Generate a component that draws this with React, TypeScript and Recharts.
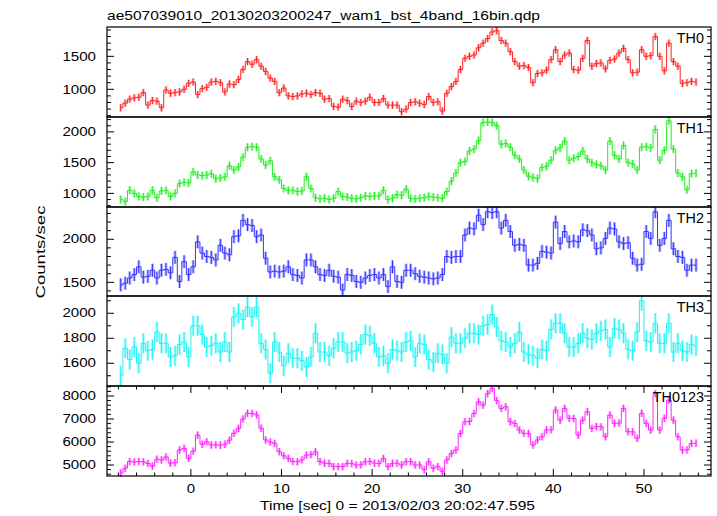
import { LineChart, Line, XAxis, YAxis, ErrorBar } from "recharts";

// time bins [sec], 0.5 s rebinned
const TIME = [
  -7.75, -7.25, -6.75, -6.25, -5.75, -5.25, -4.75, -4.25, -3.75, -3.25,
  -2.75, -2.25, -1.75, -1.25, -0.75, -0.25, 0.25, 0.75, 1.25, 1.75,
  2.25, 2.75, 3.25, 3.75, 4.25, 4.75, 5.25, 5.75, 6.25, 6.75,
  7.25, 7.75, 8.25, 8.75, 9.25, 9.75, 10.25, 10.75, 11.25, 11.75,
  12.25, 12.75, 13.25, 13.75, 14.25, 14.75, 15.25, 15.75, 16.25, 16.75,
  17.25, 17.75, 18.25, 18.75, 19.25, 19.75, 20.25, 20.75, 21.25, 21.75,
  22.25, 22.75, 23.25, 23.75, 24.25, 24.75, 25.25, 25.75, 26.25, 26.75,
  27.25, 27.75, 28.25, 28.75, 29.25, 29.75, 30.25, 30.75, 31.25, 31.75,
  32.25, 32.75, 33.25, 33.75, 34.25, 34.75, 35.25, 35.75, 36.25, 36.75,
  37.25, 37.75, 38.25, 38.75, 39.25, 39.75, 40.25, 40.75, 41.25, 41.75,
  42.25, 42.75, 43.25, 43.75, 44.25, 44.75, 45.25, 45.75, 46.25, 46.75,
  47.25, 47.75, 48.25, 48.75, 49.25, 49.75, 50.25, 50.75, 51.25, 51.75,
  52.25, 52.75, 53.25, 53.75, 54.25, 54.75, 55.25, 55.75,
];

const TH0 = [
  720, 790, 850, 870, 880, 950, 760, 830, 820, 720,
  990, 940, 950, 960, 1000, 1090, 1110, 920, 1010, 1030,
  1110, 1120, 1100, 960, 1080, 1070, 1150, 1300, 1420, 1380,
  1450, 1350, 1270, 1170, 1120, 950, 1020, 900, 890, 900,
  930, 940, 920, 950, 940, 850, 860, 740, 730, 850,
  830, 740, 820, 800, 820, 880, 800, 800, 860, 760,
  760, 760, 660, 700, 800, 810, 790, 770, 890, 800,
  810, 670, 940, 1040, 1120, 1300, 1470, 1500, 1520, 1630,
  1700, 1770, 1870, 1890, 1740, 1700, 1570, 1420, 1350, 1360,
  1330, 1100, 1240, 1250, 1290, 1450, 1600, 1420, 1520, 1550,
  1300, 1290, 1470, 1740, 1350, 1390, 1400, 1310, 1440, 1460,
  1550, 1620, 1450, 1250, 1260, 1600, 1500, 1510, 1800, 1500,
  1280, 1700, 1420, 1350, 1090, 1100, 1120, 1110,
];

const TH1 = [
  900, 870, 1050, 1000, 950, 940, 950, 1050, 930, 1040,
  1050, 950, 1000, 1160, 1180, 1170, 1350, 1300, 1290, 1300,
  1320, 1240, 1250, 1270, 1450, 1380, 1430, 1590, 1750, 1760,
  1750, 1560, 1460, 1530, 1270, 1220, 1080, 1050, 1050, 1030,
  1040, 1270, 1080, 930, 910, 920, 900, 920, 1030, 950,
  940, 920, 910, 930, 960, 950, 960, 960, 1050, 900,
  920, 980, 970, 1070, 920, 910, 920, 930, 950, 940,
  930, 920, 1030, 1200, 1330, 1500, 1520, 1690, 1720, 1860,
  2150, 2160, 2150, 2100, 1800, 1810, 1750, 1620, 1560, 1380,
  1280, 1260, 1240, 1420, 1440, 1540, 1700, 1740, 1850, 1540,
  1570, 1600, 1690, 1560, 1500, 1470, 1450, 1380, 1850, 1620,
  1560, 1780, 1500, 1480, 1380, 1750, 1760, 1740, 2040, 1540,
  1700, 2180, 1720, 1330, 1270, 1060, 1320, 1330,
];

const TH2 = [
  1470, 1490, 1550, 1590, 1680, 1560, 1570, 1640, 1550, 1640,
  1650, 1610, 1790, 1510, 1740, 1590, 1680, 1970, 1840, 1800,
  1790, 1760, 1930, 1840, 1820, 2030, 2040, 2220, 2170, 2160,
  2030, 2050, 1780, 1620, 1630, 1620, 1630, 1680, 1590, 1580,
  1550, 1760, 1760, 1680, 1590, 1580, 1640, 1570, 1560, 1410,
  1590, 1580, 1510, 1500, 1550, 1580, 1590, 1550, 1590, 1450,
  1680, 1510, 1500, 1640, 1640, 1600, 1570, 1560, 1550, 1540,
  1550, 1590, 1800, 1790, 1800, 1800, 2050, 2130, 2120, 2280,
  2170, 2320, 2310, 2320, 2130, 2220, 2090, 1930, 1940, 1930,
  1700, 1700, 1720, 1860, 1850, 1840, 2200, 1950, 2090, 1970,
  1980, 1970, 2110, 2100, 2050, 1890, 1900, 2010, 2130, 2120,
  1970, 1950, 1960, 1780, 1700, 1710, 2090, 2010, 2320, 1930,
  2010, 2220, 1890, 1800, 1790, 1640, 1700, 1700,
];

const TH3 = [
  1500, 1720, 1630, 1730, 1600, 1760, 1700, 1710, 1850, 1760,
  1760, 1650, 1660, 1750, 1770, 1650, 1900, 1900, 1830, 1730,
  1740, 1760, 1690, 1770, 1690, 1970, 2000, 1950, 2050, 1970,
  2050, 1760, 1710, 1520, 1770, 1690, 1580, 1680, 1640, 1640,
  1620, 1570, 1650, 1840, 1690, 1690, 1660, 1720, 1770, 1770,
  1680, 1690, 1700, 1750, 1830, 1820, 1760, 1650, 1660, 1600,
  1710, 1700, 1690, 1770, 1780, 1650, 1760, 1750, 1630, 1610,
  1680, 1670, 1600, 1810, 1760, 1760, 1800, 1840, 1840, 1830,
  1900, 1910, 1990, 1890, 1780, 1770, 1730, 1760, 1850, 1690,
  1670, 1660, 1640, 1710, 1700, 1870, 1920, 1920, 1840, 1730,
  1730, 1760, 1840, 1800, 1790, 1840, 1860, 1870, 1730, 1880,
  1870, 1840, 1710, 1700, 1850, 2100, 1780, 1770, 1920, 1760,
  1760, 1920, 1690, 1760, 1700, 1690, 1750, 1740,
];

const TH0123 = [
  4650, 4860, 5150, 5130, 5150, 5140, 5070, 4950, 5250, 5220,
  5350, 5080, 5100, 5650, 5720, 5290, 5600, 6300, 5900, 6010,
  5870, 5880, 5860, 5900, 6080, 6380, 6590, 7000, 7250, 7240,
  7180, 6600, 6090, 6000, 5940, 5580, 5400, 5290, 5150, 5140,
  5220, 5430, 5450, 5570, 5150, 5080, 5070, 4930, 4930, 4930,
  5070, 5060, 5000, 5010, 5140, 5150, 5080, 5070, 5280, 4930,
  5070, 5080, 5000, 5140, 5150, 5000, 5000, 4790, 5140, 4860,
  4930, 4720, 5220, 5500, 5650, 6370, 6880, 6890, 7240, 7750,
  7600, 8100, 8330, 7800, 7460, 7530, 6880, 6810, 6520, 6380,
  6370, 5870, 6090, 6230, 6520, 6530, 7390, 6950, 7460, 7030,
  7020, 6300, 6950, 7320, 6590, 6670, 6660, 6230, 7170, 6810,
  6820, 7460, 6450, 6440, 6160, 7250, 6810, 6520, 8100, 6520,
  7030, 7820, 6950, 6230, 5650, 5660, 5940, 5950,
];

// typical 1-sigma errors per band (counts/sec)
const ERR_TH0 = 55;
const ERR_TH1 = 65;
const ERR_TH2 = 75;
const ERR_TH3 = 80;
const ERR_TH0123 = 160;

const X_TICKS = [
  -8, -6, -4, -2, 0, 2, 4, 6, 8, 10, 12, 14, 16, 18, 20, 22, 24, 26, 28,
  30, 32, 34, 36, 38, 40, 42, 44, 46, 48, 50, 52, 54, 56,
];
const X_LABELS = [0, 10, 20, 30, 40, 50];

const TH0_TICKS = [600, 700, 800, 900, 1000, 1100, 1200, 1300, 1400, 1500, 1600, 1700, 1800, 1900];
const TH0_LABELS = [1000, 1500];
const TH1_TICKS = [800, 900, 1000, 1100, 1200, 1300, 1400, 1500, 1600, 1700, 1800, 1900, 2000, 2100, 2200];
const TH1_LABELS = [1000, 1500, 2000];
const TH2_TICKS = [1400, 1500, 1600, 1700, 1800, 1900, 2000, 2100, 2200, 2300];
const TH2_LABELS = [1500, 2000];
const TH3_TICKS = [1500, 1600, 1700, 1800, 1900, 2000, 2100];
const TH3_LABELS = [1600, 1800, 2000];
const TH0123_TICKS = [
  4600, 4800, 5000, 5200, 5400, 5600, 5800, 6000, 6200, 6400,
  6600, 6800, 7000, 7200, 7400, 7600, 7800, 8000, 8200, 8400,
];
const TH0123_LABELS = [5000, 6000, 7000, 8000];

const TITLE = "ae507039010_20130203200247_wam1_bst_4band_16bin.qdp";
const X_TITLE = "Time [sec] 0 = 2013/02/03 20:02:47.595";
const Y_TITLE = "Counts/sec";

const X_DOMAIN: [number, number] = [-9.26, 57.4];
const PL = 107;
const PR = 711;
const FONT = "'Liberation Sans', Arial, Helvetica, sans-serif";

const PANELS = [
  { name: "TH0", values: TH0, err: ERR_TH0, domain: [580, 1945], ticks: TH0_TICKS, labels: TH0_LABELS, color: "#ff2222", band: "rgba(255,70,70,0.4)", top: 27, h: 90 },
  { name: "TH1", values: TH1, err: ERR_TH1, domain: [779, 2242], ticks: TH1_TICKS, labels: TH1_LABELS, color: "#22ee22", band: "rgba(70,240,70,0.4)", top: 117, h: 90 },
  { name: "TH2", values: TH2, err: ERR_TH2, domain: [1341, 2375], ticks: TH2_TICKS, labels: TH2_LABELS, color: "#3434ff", band: "rgba(70,70,255,0.4)", top: 207, h: 89 },
  { name: "TH3", values: TH3, err: ERR_TH3, domain: [1418, 2138], ticks: TH3_TICKS, labels: TH3_LABELS, color: "#22f2f2", band: "rgba(60,250,250,0.45)", top: 296, h: 90 },
  { name: "TH0123", values: TH0123, err: ERR_TH0123, domain: [4522, 8435], ticks: TH0123_TICKS, labels: TH0123_LABELS, color: "#ff22ff", band: "rgba(255,70,255,0.4)", top: 386, h: 90 },
];

function Panel({ p, last }: { p: any; last: boolean }) {
  const rows = TIME.map((t, i) => ({ t, v: p.values[i], e: p.err }));
  const plotH = p.h;
  const xTick = (props: any) => {
    const v = props.payload.value;
    const x = props.x;
    const len = v % 10 === 0 ? 7 : 3.5;
    const show = last && X_LABELS.includes(v);
    const s = String(v);
    return (
      <g>
        <line x1={x} x2={x} y1={plotH} y2={plotH - len} stroke="#000" strokeWidth={1} />
        <line x1={x} x2={x} y1={0} y2={len} stroke="#000" strokeWidth={1} />
        {show && (
          <text x={x} y={plotH + 17} textAnchor="middle" fontSize={12} fontFamily={FONT} fill="#000"
            textLength={s.length * 8.4} lengthAdjust="spacingAndGlyphs">{s}</text>
        )}
      </g>
    );
  };
  const yTick = (props: any) => {
    const v = props.payload.value;
    const y = props.y;
    const major = p.labels.includes(v);
    const len = major ? 7 : 4;
    const s = String(v);
    return (
      <g>
        <line x1={PL} x2={PL + len} y1={y} y2={y} stroke="#000" strokeWidth={1} />
        <line x1={PR - len} x2={PR} y1={y} y2={y} stroke="#000" strokeWidth={1} />
        {major && (
          <text x={96} y={y + 4.2} textAnchor="end" fontSize={12} fontFamily={FONT} fill="#000"
            textLength={s.length * 8.4} lengthAdjust="spacingAndGlyphs">{s}</text>
        )}
      </g>
    );
  };
  return (
    <div style={{ position: "absolute", left: 0, top: p.top }}>
      <LineChart width={717} height={last ? plotH + 40 : plotH} data={rows}
        margin={{ top: 0, right: 717 - PR, bottom: 0, left: 0 }}>
        <XAxis type="number" dataKey="t" domain={X_DOMAIN} allowDataOverflow ticks={X_TICKS}
          interval={0} height={last ? 40 : 0} tickLine={false} axisLine={false} tick={xTick} />
        <YAxis type="number" domain={p.domain} allowDataOverflow ticks={p.ticks} interval={0}
          width={PL} tickLine={false} axisLine={false} tick={yTick} />
        <Line dataKey="v" type="step" stroke="none" dot={false} isAnimationActive={false}>
          <ErrorBar dataKey="e" width={0} stroke={p.band} strokeWidth={3} isAnimationActive={false} />
        </Line>
        <Line dataKey="v" type="step" stroke={p.color} strokeWidth={1} dot={false} isAnimationActive={false}>
          <ErrorBar dataKey="e" width={0} stroke={p.color} strokeWidth={1} isAnimationActive={false} />
        </Line>
      </LineChart>
    </div>
  );
}

export default function App() {
  return (
    <div style={{ position: "absolute", left: 0, top: 0, width: 717, height: 516, background: "#fff", overflow: "hidden" }}>
      {PANELS.map((p, i) => (
        <Panel key={p.name} p={p} last={i === PANELS.length - 1} />
      ))}
      <svg width={717} height={516} style={{ position: "absolute", left: 0, top: 0, pointerEvents: "none" }}>
        <text x={107} y={20} fontSize={12} fontFamily={FONT} fill="#000" textLength={433} lengthAdjust="spacingAndGlyphs">{TITLE}</text>
        <text x={397.5} y={510} textAnchor="middle" fontSize={12} fontFamily={FONT} fill="#000" textLength={275} lengthAdjust="spacingAndGlyphs">{X_TITLE}</text>
        <text transform="translate(45,252) rotate(-90)" textAnchor="middle" fontSize={12} fontFamily={FONT} fill="#000" textLength={93} lengthAdjust="spacingAndGlyphs">{Y_TITLE}</text>
        {PANELS.map((p) => (
          <g key={p.name}>
            <rect x={PL} y={p.top} width={PR - PL} height={p.h} fill="none" stroke="#000" strokeWidth={1.2} />
            <text x={704} y={p.top + 15.6} textAnchor="end" fontSize={14.4} fontFamily={FONT} fill="#000">{p.name}</text>
          </g>
        ))}
      </svg>
    </div>
  );
}
